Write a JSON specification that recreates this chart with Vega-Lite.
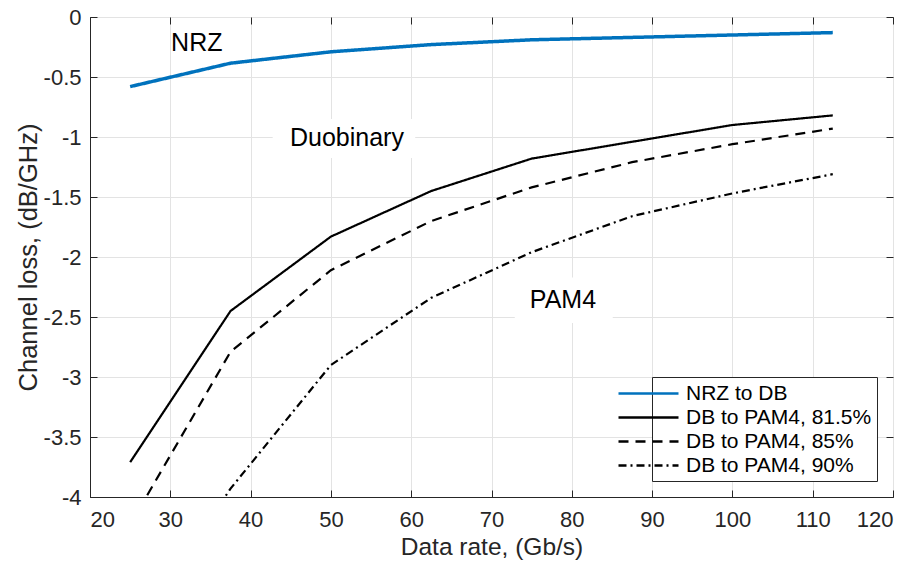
{
  "$schema": "https://vega.github.io/schema/vega-lite/v6.json",
  "width": 803,
  "height": 480,
  "autosize": {"type": "none"},
  "padding": {"left": 90, "top": 17, "right": 26, "bottom": 68},
  "background": "white",
  "config": {
    "font": "Liberation Sans",
    "view": {"stroke": "#262626", "strokeWidth": 1},
    "axis": {
      "domainColor": "#262626",
      "tickColor": "#262626",
      "labelColor": "#262626",
      "titleColor": "#262626",
      "labelFont": "Liberation Sans",
      "titleFont": "Liberation Sans",
      "labelFontSize": 22,
      "titleFontSize": 22,
      "titleFontWeight": "normal",
      "gridColor": "#e3e3e3",
      "gridWidth": 1,
      "tickSize": -7,
      "labelPadding": 6
    }
  },
  "datasets": {
    "curves": [
      {"series": "NRZ to DB", "rate": 25, "loss": -0.58},
      {"series": "NRZ to DB", "rate": 37.5, "loss": -0.385},
      {"series": "NRZ to DB", "rate": 50, "loss": -0.29},
      {"series": "NRZ to DB", "rate": 62.5, "loss": -0.23},
      {"series": "NRZ to DB", "rate": 75, "loss": -0.19},
      {"series": "NRZ to DB", "rate": 87.5, "loss": -0.17},
      {"series": "NRZ to DB", "rate": 100, "loss": -0.15},
      {"series": "NRZ to DB", "rate": 112.5, "loss": -0.13},
      {"series": "DB to PAM4, 81.5%", "rate": 25, "loss": -3.71},
      {"series": "DB to PAM4, 81.5%", "rate": 37.5, "loss": -2.45},
      {"series": "DB to PAM4, 81.5%", "rate": 50, "loss": -1.83},
      {"series": "DB to PAM4, 81.5%", "rate": 62.5, "loss": -1.45},
      {"series": "DB to PAM4, 81.5%", "rate": 75, "loss": -1.18},
      {"series": "DB to PAM4, 81.5%", "rate": 87.5, "loss": -1.04},
      {"series": "DB to PAM4, 81.5%", "rate": 100, "loss": -0.9},
      {"series": "DB to PAM4, 81.5%", "rate": 112.5, "loss": -0.82},
      {"series": "DB to PAM4, 85%", "rate": 25, "loss": -4.23},
      {"series": "DB to PAM4, 85%", "rate": 37.5, "loss": -2.79},
      {"series": "DB to PAM4, 85%", "rate": 50, "loss": -2.11},
      {"series": "DB to PAM4, 85%", "rate": 62.5, "loss": -1.7},
      {"series": "DB to PAM4, 85%", "rate": 75, "loss": -1.42},
      {"series": "DB to PAM4, 85%", "rate": 87.5, "loss": -1.21},
      {"series": "DB to PAM4, 85%", "rate": 100, "loss": -1.06},
      {"series": "DB to PAM4, 85%", "rate": 112.5, "loss": -0.93},
      {"series": "DB to PAM4, 90%", "rate": 25, "loss": -5.2},
      {"series": "DB to PAM4, 90%", "rate": 37.5, "loss": -3.93},
      {"series": "DB to PAM4, 90%", "rate": 50, "loss": -2.9},
      {"series": "DB to PAM4, 90%", "rate": 62.5, "loss": -2.34},
      {"series": "DB to PAM4, 90%", "rate": 75, "loss": -1.96},
      {"series": "DB to PAM4, 90%", "rate": 87.5, "loss": -1.66},
      {"series": "DB to PAM4, 90%", "rate": 100, "loss": -1.47},
      {"series": "DB to PAM4, 90%", "rate": 112.5, "loss": -1.31}
    ],
    "labels": [
      {"label": "NRZ", "rate": 33.3, "loss": -0.22, "boxed": false, "x0": 33.3, "x1": 33.3, "y0": -0.22, "y1": -0.22},
      {"label": "Duobinary", "rate": 52.0, "loss": -1.01, "boxed": true, "x0": 42.75, "x1": 60.5, "y0": -0.85, "y1": -1.175},
      {"label": "PAM4", "rate": 78.9, "loss": -2.36, "boxed": true, "x0": 72.9, "x1": 85.1, "y0": -2.17, "y1": -2.55}
    ]
  },
  "layer": [
    {
      "data": {"name": "labels"},
      "transform": [{"filter": "datum.boxed"}],
      "mark": {"type": "rect", "fill": "white", "stroke": null},
      "encoding": {
        "x": {"field": "x0", "type": "quantitative", "axis": null},
        "x2": {"field": "x1"},
        "y": {"field": "y0", "type": "quantitative", "axis": null},
        "y2": {"field": "y1"}
      }
    },
    {
      "data": {"name": "curves"},
      "mark": {"type": "line", "clip": true, "strokeCap": "butt", "strokeJoin": "miter"},
      "encoding": {
        "x": {
          "field": "rate",
          "type": "quantitative",
          "scale": {"domain": [20, 120], "nice": false, "zero": false},
          "axis": {
            "title": "Data rate, (Gb/s)",
            "values": [20, 30, 40, 50, 60, 70, 80, 90, 100, 110, 120],
            "labelExpr": "datum.value + ''",
            "labelFontSize": 22,
            "titleFontSize": 24.5,
            "titlePadding": 5,
            "labelPadding": 19,
            "grid": true
          }
        },
        "y": {
          "field": "loss",
          "type": "quantitative",
          "scale": {"domain": [-4, 0], "nice": false, "zero": false},
          "axis": {
            "title": "Channel loss, (dB/GHz)",
            "values": [-4, -3.5, -3, -2.5, -2, -1.5, -1, -0.5, 0],
            "labelExpr": "datum.value + ''",
            "labelFontSize": 22,
            "titleFontSize": 25.5,
            "titlePadding": 2,
            "labelPadding": 16,
            "grid": true
          }
        },
        "color": {
          "field": "series",
          "type": "nominal",
          "sort": ["NRZ to DB", "DB to PAM4, 81.5%", "DB to PAM4, 85%", "DB to PAM4, 90%"],
          "scale": {"domain": ["NRZ to DB", "DB to PAM4, 81.5%", "DB to PAM4, 85%", "DB to PAM4, 90%"], "range": ["#0072BD", "#000000", "#000000", "#000000"]},
          "legend": {
            "title": null,
            "orient": "bottom-right",
            "offset": 16,
            "fillColor": "white",
            "strokeColor": "#262626",
            "padding": 5,
            "symbolType": "M-5,0H1",
            "symbolSize": 400,
            "symbolStrokeWidth": 2.5,
            "labelFontSize": 21,
            "labelFont": "Liberation Sans",
            "labelColor": "#000000",
            "labelOffset": 6,
            "labelLimit": 400,
            "rowPadding": 2
          }
        },
        "strokeDash": {
          "field": "series",
          "type": "nominal",
          "sort": ["NRZ to DB", "DB to PAM4, 81.5%", "DB to PAM4, 85%", "DB to PAM4, 90%"],
          "scale": {"domain": ["NRZ to DB", "DB to PAM4, 81.5%", "DB to PAM4, 85%", "DB to PAM4, 90%"], "range": [[1, 0], [1, 0], [10, 7], [8, 4, 2, 4]]},
          "legend": {"title": null}
        },
        "strokeWidth": {
          "condition": {"test": "datum.series === 'NRZ to DB'", "value": 3.5},
          "value": 2.2
        }
      }
    },
    {
      "data": {"name": "labels"},
      "mark": {"type": "text", "fontSize": 25, "font": "Liberation Sans", "color": "#000000", "align": "center", "baseline": "middle"},
      "encoding": {
        "x": {"field": "rate", "type": "quantitative", "axis": {"orient": "top", "labels": false, "grid": false, "domain": false, "title": null, "values": [20, 30, 40, 50, 60, 70, 80, 90, 100, 110, 120]}},
        "y": {"field": "loss", "type": "quantitative", "axis": {"orient": "right", "labels": false, "grid": false, "domain": false, "title": null, "values": [-4, -3.5, -3, -2.5, -2, -1.5, -1, -0.5, 0]}},
        "text": {"field": "label"}
      }
    }
  ],
  "resolve": {"axis": {"x": "independent", "y": "independent"}}
}
